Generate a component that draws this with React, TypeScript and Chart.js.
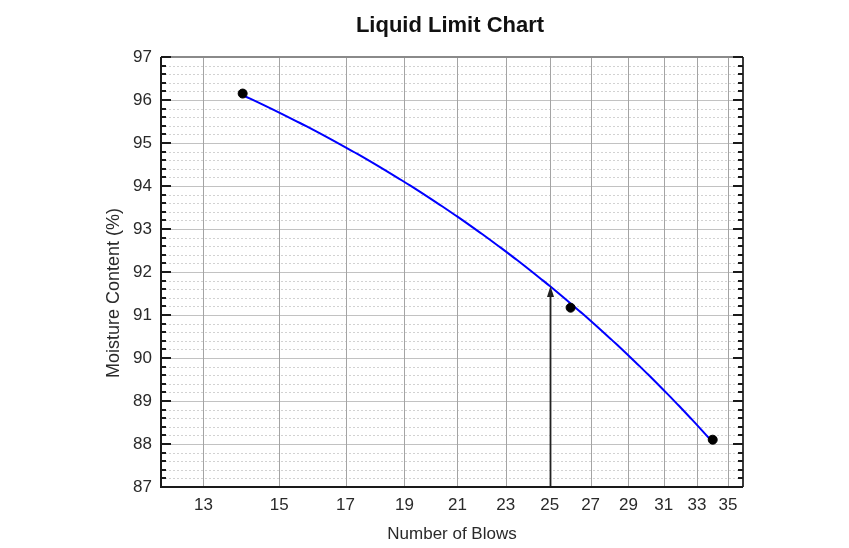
import React, { useEffect, useRef } from "react";
import { Chart, registerables } from "chart.js";

Chart.register(...registerables);

// Liquid limit test results
const blows = [14, 26, 34];
const moisture = [96.15, 91.17, 88.1];

// Axis tick labels
const blowTicks = [13, 15, 17, 19, 21, 23, 25, 27, 29, 31, 33, 35];
const moistureTicks = [87, 88, 89, 90, 91, 92, 93, 94, 95, 96, 97];

// Liquid limit at 25 blows
const targetBlows = 25;
const minorDivisions = 5;

const FONT = "'Liberation Sans', Arial, Helvetica, sans-serif";

// Least-squares straight line of moisture content against blow count
function linearFit(xs: number[], ys: number[]) {
  const n = xs.length;
  const mx = xs.reduce((s, v) => s + v, 0) / n;
  const my = ys.reduce((s, v) => s + v, 0) / n;
  let sxy = 0;
  let sxx = 0;
  for (let i = 0; i < n; i++) {
    sxy += (xs[i] - mx) * (ys[i] - my);
    sxx += (xs[i] - mx) * (xs[i] - mx);
  }
  const b = sxy / sxx;
  const a = my - b * mx;
  return (x: number) => a + b * x;
}

const flowCurve = linearFit(blows, moisture);

const gridAndCurvePlugin = {
  id: "gridAndCurve",
  beforeDatasetsDraw(chart: any) {
    const { ctx, chartArea: area, scales } = chart;
    const xs = scales.x;
    const ys = scales.y;
    ctx.save();

    // minor horizontal grid (dotted)
    ctx.strokeStyle = "#d2d2d2";
    ctx.lineWidth = 1;
    ctx.setLineDash([2, 2]);
    for (let k = 0; k < moistureTicks.length - 1; k++) {
      for (let m = 1; m < minorDivisions; m++) {
        const v = moistureTicks[k] + (m * (moistureTicks[k + 1] - moistureTicks[k])) / minorDivisions;
        const py = Math.round(ys.getPixelForValue(v)) + 0.5;
        ctx.beginPath();
        ctx.moveTo(area.left, py);
        ctx.lineTo(area.right, py);
        ctx.stroke();
      }
    }
    ctx.setLineDash([]);

    // major horizontal grid
    ctx.strokeStyle = "#c2c2c2";
    for (const v of moistureTicks) {
      const py = Math.round(ys.getPixelForValue(v)) + 0.5;
      ctx.beginPath();
      ctx.moveTo(area.left, py);
      ctx.lineTo(area.right, py);
      ctx.stroke();
    }

    // vertical grid
    ctx.strokeStyle = "#a4a4a4";
    for (const v of blowTicks) {
      const px = Math.round(xs.getPixelForValue(v)) + 0.5;
      ctx.beginPath();
      ctx.moveTo(px, area.top);
      ctx.lineTo(px, area.bottom);
      ctx.stroke();
    }

    // flow curve: linear fit drawn across the log-scaled blow axis
    const n0 = Math.min(...blows);
    const n1 = Math.max(...blows);
    const steps = 200;
    ctx.strokeStyle = "#0000ff";
    ctx.lineWidth = 2;
    ctx.beginPath();
    for (let i = 0; i <= steps; i++) {
      const n = n0 + ((n1 - n0) * i) / steps;
      const px = xs.getPixelForValue(n);
      const py = ys.getPixelForValue(flowCurve(n));
      if (i === 0) ctx.moveTo(px, py);
      else ctx.lineTo(px, py);
    }
    ctx.stroke();

    // arrow up from 25 blows to the curve
    const ax = Math.round(xs.getPixelForValue(targetBlows)) + 0.5;
    const tipY = ys.getPixelForValue(flowCurve(targetBlows));
    ctx.strokeStyle = "#222";
    ctx.fillStyle = "#222";
    ctx.lineWidth = 1.8;
    ctx.beginPath();
    ctx.moveTo(ax, area.bottom);
    ctx.lineTo(ax, tipY + 8);
    ctx.stroke();
    ctx.beginPath();
    ctx.moveTo(ax, tipY);
    ctx.lineTo(ax - 3.5, tipY + 11);
    ctx.lineTo(ax + 3.5, tipY + 11);
    ctx.closePath();
    ctx.fill();

    ctx.restore();
  },
  afterDraw(chart: any) {
    const { ctx, chartArea: area, scales } = chart;
    const ys = scales.y;
    ctx.save();

    // frame
    ctx.lineWidth = 2;
    ctx.strokeStyle = "#8a8a8a";
    ctx.beginPath();
    ctx.moveTo(area.left, area.top);
    ctx.lineTo(area.right, area.top);
    ctx.stroke();
    ctx.strokeStyle = "#3a3a3a";
    ctx.beginPath();
    ctx.moveTo(area.right, area.top);
    ctx.lineTo(area.right, area.bottom);
    ctx.stroke();
    ctx.strokeStyle = "#1a1a1a";
    ctx.beginPath();
    ctx.moveTo(area.left, area.top);
    ctx.lineTo(area.left, area.bottom);
    ctx.lineTo(area.right, area.bottom);
    ctx.stroke();

    // inward ticks on left and right axes
    ctx.strokeStyle = "#1a1a1a";
    ctx.lineWidth = 2;
    for (let k = 0; k < moistureTicks.length; k++) {
      for (let m = 0; m < minorDivisions; m++) {
        if (k === moistureTicks.length - 1 && m > 0) break;
        const v = moistureTicks[k] + (k < moistureTicks.length - 1 ? (m * (moistureTicks[k + 1] - moistureTicks[k])) / minorDivisions : 0);
        const py = Math.round(ys.getPixelForValue(v));
        const len = m === 0 ? 10 : 5;
        ctx.beginPath();
        ctx.moveTo(area.left, py);
        ctx.lineTo(area.left + len, py);
        ctx.moveTo(area.right, py);
        ctx.lineTo(area.right - len, py);
        ctx.stroke();
      }
    }

    // titles
    ctx.fillStyle = "#111";
    ctx.textAlign = "center";
    ctx.textBaseline = "middle";
    ctx.font = `bold 22px ${FONT}`;
    ctx.fillText("Liquid Limit Chart", (area.left + area.right) / 2 - 2, 26);

    ctx.fillStyle = "#2a2a2a";
    ctx.font = `17px ${FONT}`;
    ctx.fillText("Number of Blows", (area.left + area.right) / 2, 534);

    ctx.font = `18px ${FONT}`;
    ctx.translate(114, 293);
    ctx.rotate(-Math.PI / 2);
    ctx.fillText("Moisture Content (%)", 0, 0);
    ctx.restore();
  },
};

export default function App() {
  const canvasRef = useRef<HTMLCanvasElement | null>(null);

  useEffect(() => {
    const canvas = canvasRef.current;
    if (!canvas) return;
    const chart = new Chart(canvas, {
      type: "scatter",
      data: {
        datasets: [
          {
            label: "Test points",
            data: blows.map((b, i) => ({ x: b, y: moisture[i] })),
            backgroundColor: "#000",
            borderColor: "#000",
            pointRadius: 4.5,
            pointHoverRadius: 4.5,
            showLine: false,
          },
        ],
      },
      options: {
        animation: false,
        responsive: false,
        devicePixelRatio: 1,
        events: [],
        layout: { padding: { left: 0, right: 106, top: 57, bottom: 0 } },
        plugins: {
          legend: { display: false },
          title: { display: false },
          tooltip: { enabled: false },
        },
        scales: {
          x: {
            type: "logarithmic",
            min: 12,
            max: 36,
            grid: { display: false, drawTicks: false },
            border: { display: false },
            afterBuildTicks: (scale: any) => {
              scale.ticks = blowTicks.map((v) => ({ value: v }));
            },
            afterFit: (scale: any) => {
              scale.height = 61;
            },
            ticks: {
              autoSkip: false,
              maxRotation: 0,
              padding: 8,
              color: "#2a2a2a",
              font: { family: FONT, size: 17 },
              callback: (v: any) => String(v),
            },
          },
          y: {
            type: "linear",
            min: 87,
            max: 97,
            grid: { display: false, drawTicks: false },
            border: { display: false },
            afterBuildTicks: (scale: any) => {
              scale.ticks = moistureTicks.map((v) => ({ value: v }));
            },
            afterFit: (scale: any) => {
              scale.width = 161;
            },
            ticks: {
              autoSkip: false,
              padding: 9,
              color: "#2a2a2a",
              font: { family: FONT, size: 17 },
              callback: (v: any) => String(v),
            },
          },
        },
      },
      plugins: [gridAndCurvePlugin],
    });
    return () => chart.destroy();
  }, []);

  return (
    <div style={{ position: "fixed", left: 0, top: 0, width: 849, height: 548, background: "#fff" }}>
      <canvas ref={canvasRef} width={849} height={548} style={{ display: "block" }} />
    </div>
  );
}
